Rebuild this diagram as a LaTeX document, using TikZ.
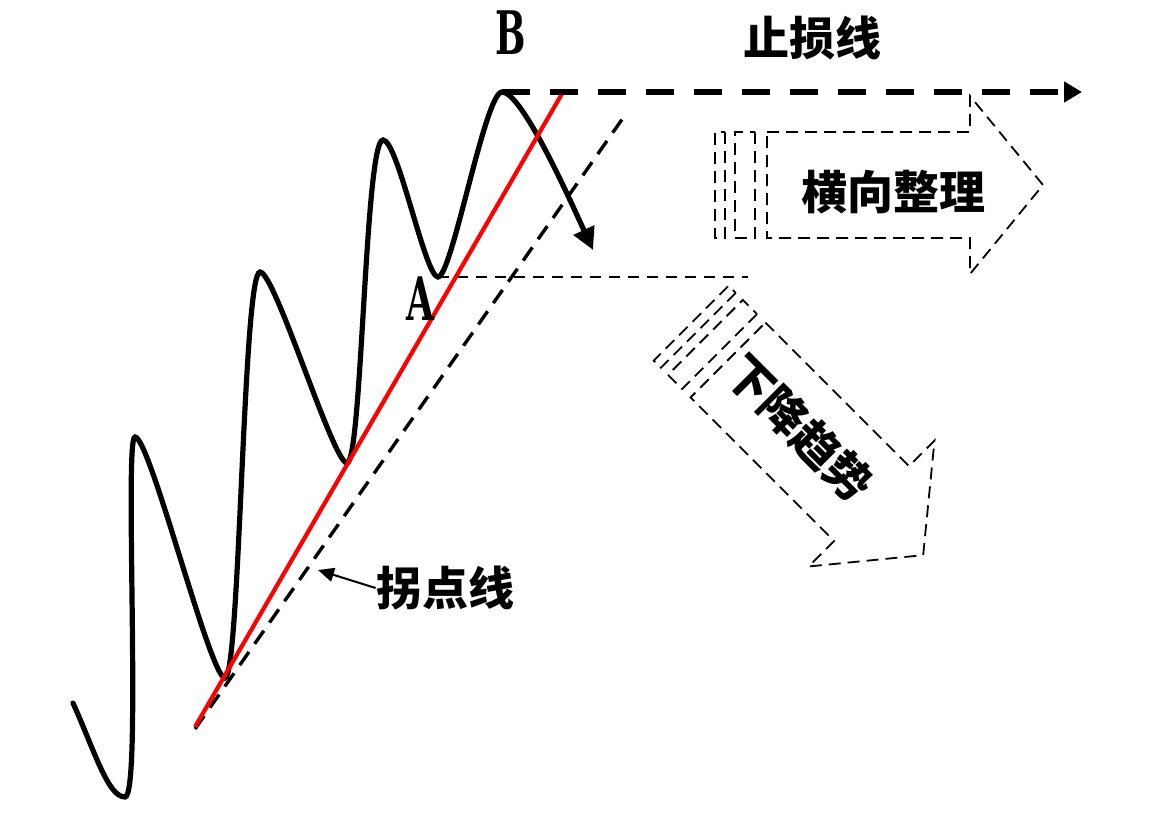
\documentclass[tikz,border=0pt]{standalone}
\usepackage{fontspec}
\setmainfont{Liberation Serif}
\newfontfamily\cjk{Noto Sans CJK SC}
\newfontfamily\ptfont{DejaVu Serif Bold}
\usetikzlibrary{arrows.meta, positioning}

\begin{document}
\begin{tikzpicture}[
  x=0.5pt, y=-0.5pt,
  wave/.style={line width=2.6pt, line cap=round},
  trendline/.style={line width=2.1pt, red},
  guideline/.style={line width=1.7pt, dash pattern=on 8pt off 5pt},
  stopline/.style={line width=3pt, dash pattern=on 14pt off 10pt, -{Triangle[length=9pt,width=10pt]}},
  thindash/.style={line width=1pt, dash pattern=on 5.5pt off 4pt},
  blockedge/.style={line width=0.9pt, dash pattern=on 6pt off 3.5pt},
  pointer/.style={line width=1pt, -{Triangle[length=8pt,width=7pt]}},
  cjktext/.style={font=\cjk\bfseries\fontsize{23}{23}\selectfont, inner sep=0pt},
  ptlabel/.style={font=\ptfont\fontsize{30}{30}\selectfont, inner sep=0pt, xscale=0.6},
  stripearrow/.pic={
    \draw[blockedge] (0,-53) -- (203,-53) -- (203,-89) -- (276,0) -- (203,89) -- (203,53) -- (0,53) -- cycle;
    \draw[blockedge] (-12,-53) rectangle (-32,53);
    \draw[blockedge] (-42,-53) rectangle (-52,53);
  }
]
  \useasboundingbox (0,0) rectangle (1170,823);

  % price wave
  \coordinate (w0) at (73,703);
  \coordinate (t1) at (125,797);
  \coordinate (p1) at (135,437);
  \coordinate (t2) at (225,678);
  \coordinate (p2) at (260,272);
  \coordinate (t3) at (347,463);
  \coordinate (p3) at (383,140);
  \coordinate (ptA) at (438,277);
  \coordinate (ptB) at (502,92);
  \coordinate (w9) at (593,250);

  \draw[wave] (w0) .. controls (95,752) and (108,797) .. (t1)
    .. controls (142,797) and (124,437) .. (p1)
    .. controls (150,437) and (210,678) .. (t2)
    .. controls (240,678) and (243,272) .. (p2)
    .. controls (275,272) and (333,463) .. (t3)
    .. controls (362,463) and (365,140) .. (p3)
    .. controls (398,140) and (425,277) .. (ptA)
    .. controls (452,277) and (485,92) .. (ptB);
  \draw[wave, -{Triangle[length=11pt,width=11pt]}] (ptB) .. controls (522,92) and (570,200) .. (w9);

  % trend lines
  \coordinate (r0) at (195,727);
  \coordinate (r1) at (563,92);
  \coordinate (g0) at (195,729);
  \coordinate (g1) at (623,118);
  \coordinate (aend) at (748,277);
  \coordinate (stopend) at (1082,92);
  \coordinate (gtip) at (318,570);

  \draw[guideline] (g0) -- (g1);
  \draw[thindash] (ptA) -- (aend);
  \draw[trendline] (r0) -- (r1);
  \draw[stopline] (ptB) -- (stopend);

  % block arrows
  \pic at (767,185) {stripearrow};
  \pic[rotate=-45] at (728,360) {stripearrow};

  \node[cjktext] (zhisun) at (812,38) {止损线};
  \node[cjktext] (hengxiang) at (893,192) {横向整理};
  \node[cjktext, rotate=-45] (xiajiang) at (800,428) {下降趋势};
  \node[cjktext] (guaidian) at (445,588) {拐点线};
  \node[ptlabel] (lblA) at (420,299) {A};
  \node[ptlabel] (lblB) at (511,33) {B};

  \draw[pointer] (guaidian.west) -- (gtip);
\end{tikzpicture}
\end{document}
